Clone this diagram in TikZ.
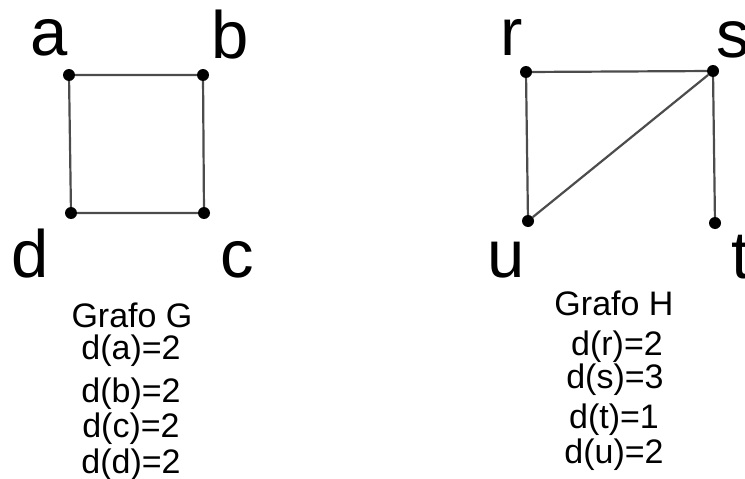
\documentclass[tikz,border=0pt]{standalone}
\usepackage{fontspec}
\setmainfont{Liberation Sans}
\begin{document}
\begin{tikzpicture}[x=1pt,y=-1pt,
  vertex/.style={circle,fill=black,inner sep=0pt,minimum size=12pt},
  edge/.style={draw=black!70,line width=2.2pt},
  vlabel/.style={anchor=base,inner sep=0pt,font=\fontsize{67}{67}\selectfont},
  info/.style={anchor=base,inner sep=0pt,font=\fontsize{34}{34}\selectfont}]
\useasboundingbox (0,0) rectangle (745,479);
% Graph G
\node[vertex] (a) at (69,75) {};
\node[vertex] (b) at (203,75) {};
\node[vertex] (c) at (204,213) {};
\node[vertex] (d) at (71,213) {};
\draw[edge] (a) -- (b) -- (c) -- (d) -- (a);
\node[vlabel] (la) at (49,55) {a};
\node[vlabel] (lb) at (230,58) {b};
\node[vlabel] (lc) at (237,277) {c};
\node[vlabel] (ld) at (30,277) {d};
% Graph H
\node[vertex] (r) at (526,72) {};
\node[vertex] (s) at (713,71) {};
\node[vertex] (t) at (715,223) {};
\node[vertex] (u) at (528,221) {};
\draw[edge] (u) -- (r) -- (s) -- (u);
\draw[edge] (s) -- (t);
\node[vlabel] (lr) at (512,55) {r};
\node[vlabel] (ls) at (733,57) {s};
\node[vlabel] (lt) at (741,278) {t};
\node[vlabel] (lu) at (506,277) {u};
% Degree tables
\node[info] (gG) at (132,327) {Grafo G};
\node[info] (ga) at (131,359) {d(a)=2};
\node[info] (gb) at (131,402) {d(b)=2};
\node[info] (gc) at (131,437) {d(c)=2};
\node[info] (gd) at (131,473) {d(d)=2};
\node[info] (hH) at (614,315) {Grafo H};
\node[info] (hr) at (617,355) {d(r)=2};
\node[info] (hs) at (615,388) {d(s)=3};
\node[info] (ht) at (614,428) {d(t)=1};
\node[info] (hu) at (614,463) {d(u)=2};
\end{tikzpicture}
\end{document}
